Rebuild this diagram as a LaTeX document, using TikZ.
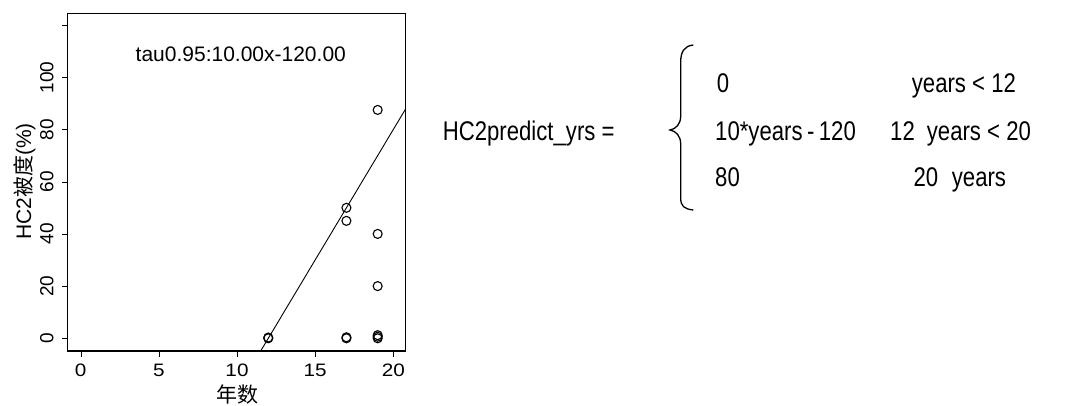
\documentclass[tikz,border=0pt]{standalone}
\usepackage{fontspec}
\setmainfont{Liberation Sans}
\newfontfamily\cjk{Noto Sans CJK SC}
\newfontfamily\narrowfont[FakeStretch=0.82]{Liberation Sans}
\newfontfamily\widefont[FakeStretch=1.15]{Liberation Sans}

\begin{document}
\begin{tikzpicture}[x=1pt,y=-1pt,
    ticklabel/.style={font=\fontsize{19}{19}\selectfont,inner sep=0pt},
    xticklabel/.style={font=\widefont\fontsize{18}{18}\selectfont,inner sep=0pt},
    axistitle/.style={font=\fontsize{21}{21}\selectfont,inner sep=0pt},
    eqtext/.style={font=\narrowfont\fontsize{27}{27}\selectfont,inner sep=0pt,anchor=base west},
    datapoint/.style={line width=1.1pt}]
  \useasboundingbox (0,0) rectangle (1086,405);

  % scatter plot, data coordinates
  \begin{scope}[shift={(80.7,338.3)},x=15.63pt,y=2.61pt]
    \draw[line width=1.2pt] (-0.83,-4.87) rectangle (20.79,124.5);

    \foreach \x in {0,5,...,20}
      \draw (\x,-4.87) -- ++(0pt,-6pt)
        node[xticklabel,anchor=base,yshift=-19pt] {\x};

    \foreach \y in {0,20,...,120}
      \draw (-0.83,\y) -- ++(-6pt,0pt);
    \foreach \y in {0,20,...,100}
      \node[ticklabel,rotate=90,anchor=base] at ([xshift=-14.4pt]-0.83,\y) {\y};

    \draw[line width=0.9pt] (11.513,-4.87) -- (20.79,87.9);

    \foreach \px/\py in {12/0, 12/0.3, 17/0, 17/0.4, 17/45, 17/50,
                         19/0, 19/0.6, 19/1.2, 19/20, 19/40, 19/87.5}
      \draw[datapoint] (\px,\py) circle[radius=4.5pt];
  \end{scope}

  \node[axistitle,anchor=base] (fit) at (240.8,61.7) {tau0.95:10.00x-120.00};
  \node[axistitle,rotate=90,anchor=base] (ytitle) at (31,181.5) {HC2{\cjk 被度}(\%)};
  \node[axistitle,anchor=base] (xtitle) at (237.5,402) {\cjk 年数};

  % piecewise rule
  \draw[line width=1.3pt] (693.3,45) .. controls (684,46) and (680.7,52) .. (680.7,62)
    -- (680.7,116) .. controls (680.7,124) and (676,129) .. (670,130)
    .. controls (676,131) and (680.7,136) .. (680.7,144)
    -- (680.7,198) .. controls (680.7,206) and (684,209) .. (693.3,210);

  \node[eqtext] (lhs) at (442.7,140) {HC2predict\_yrs =};
  \node[eqtext] (zero) at (716.7,92.7) {0};
  \node[eqtext] (lowcond) at (911.7,92.7) {years < 12};
  \node[eqtext] (linear) at (715,140) {10*years\,-\,120};
  \node[eqtext] (midlo) at (890,140) {12};
  \node[eqtext] (midcond) at (926.7,140) {years < 20};
  \node[eqtext] (cap) at (715,186.7) {80};
  \node[eqtext] (highlo) at (913.3,186.7) {20};
  \node[eqtext] (highcond) at (951.7,186.7) {years};
\end{tikzpicture}
\end{document}
